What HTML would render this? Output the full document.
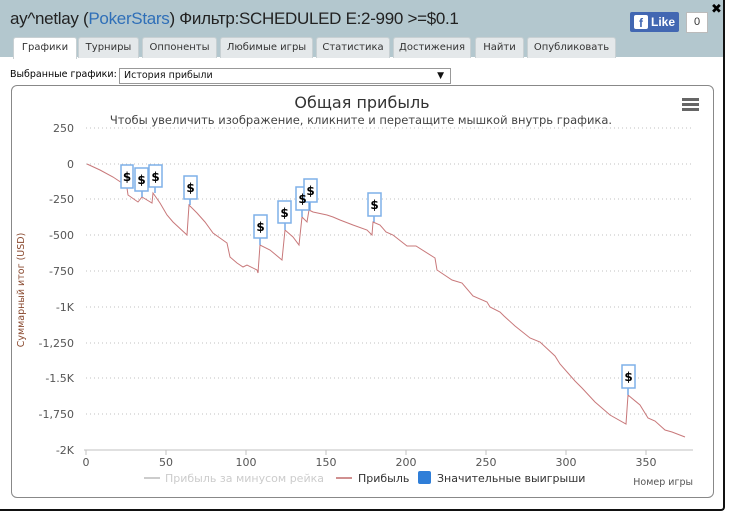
<!DOCTYPE html>
<html><head><meta charset="utf-8"><style>
body{margin:0;width:731px;height:513px;background:#fff;overflow:hidden;font-family:"Liberation Sans","DejaVu Sans",sans-serif;position:relative}
.win{position:absolute;left:0;top:0;width:723px;height:509px;border-right:2px solid #111;border-bottom:2px solid #111;border-bottom-right-radius:4px;background:#fff}
.hdr{position:absolute;left:0;top:0;width:723px;height:57px;background:#b3c7ce}
.title{position:absolute;left:10px;top:9px;font-size:17px;color:#222;letter-spacing:-0.3px}
.title span{color:#2f6fb8}
.tab{position:absolute;top:37px;height:20px;background:#e4e8ea;border:1px solid #c8d0d3;border-bottom:none;border-radius:3px 3px 0 0;font-family:"DejaVu Sans",sans-serif;font-size:10px;color:#333;text-align:center;line-height:20px}
.tab.act{background:#fff;height:21px}
.fb{position:absolute;left:630px;top:12px;width:49px;height:20px;background:#4267b2;border-radius:2px;color:#fff;font-weight:bold;font-size:12px;line-height:20px}
.cnt{position:absolute;left:686px;top:12px;width:20px;height:19px;border:1px solid #bbb;background:#fff;font-size:11px;text-align:center;line-height:19px;color:#333}
.sel{position:absolute;left:119px;top:68px;width:326px;height:14px;border:1px solid #999;font-family:"DejaVu Sans",sans-serif;font-size:9.5px;line-height:14px;padding-left:4px;color:#111}
.chart{position:absolute;left:11px;top:85px;width:701px;height:411px;border:1px solid #888;border-radius:6px}
</style></head><body>
<div class="win">
<div class="hdr"></div>
<div class="title">ay^netlay (<span>PokerStars</span>) Фильтр:SCHEDULED E:2-990 &gt;=$0.1</div>
<div style="position:absolute;left:711px;top:1px;font-size:13px;font-weight:bold">✖</div>
<div class="fb"><span style="display:inline-block;width:14px;height:14px;background:#fff;color:#4267b2;margin:3px 3px 0 4px;line-height:16px;text-align:center;vertical-align:top;border-radius:2px">f</span>Like</div>
<div class="cnt">0</div>
<div class="tab act" style="left:13px;width:62px">Графики</div>
<div class="tab" style="left:78px;width:59px">Турниры</div>
<div class="tab" style="left:142px;width:73px">Оппоненты</div>
<div class="tab" style="left:220px;width:91px">Любимые игры</div>
<div class="tab" style="left:316px;width:72px">Статистика</div>
<div class="tab" style="left:393px;width:76px">Достижения</div>
<div class="tab" style="left:475px;width:47px">Найти</div>
<div class="tab" style="left:527px;width:87px">Опубликовать</div>
<div style="position:absolute;left:10px;top:69px;font-family:'DejaVu Sans',sans-serif;font-size:9.5px">Выбранные графики:</div>
<div class="sel">История прибыли<span style="position:absolute;right:6px;top:0;font-size:9px">▼</span></div>
<div class="chart"></div>
<svg width="731" height="513" style="position:absolute;left:0;top:0" font-family="DejaVu Sans, sans-serif">
<text x="362" y="108" font-size="16" text-anchor="middle" fill="#333">Общая прибыль</text>
<text x="361" y="124" font-size="11.5" text-anchor="middle" fill="#444">Чтобы увеличить изображение, кликните и перетащите мышкой внутрь графика.</text>
<g fill="#666"><rect x="682" y="98" width="17" height="3"/><rect x="682" y="103" width="17" height="3"/><rect x="682" y="108" width="17" height="3"/></g>
<g stroke="#c0c0c0" stroke-dasharray="1,3" stroke-width="1">
<line x1="86" y1="128" x2="693" y2="128"/><line x1="86" y1="164" x2="693" y2="164"/><line x1="86" y1="199" x2="693" y2="199"/><line x1="86" y1="235" x2="693" y2="235"/><line x1="86" y1="271" x2="693" y2="271"/><line x1="86" y1="307" x2="693" y2="307"/><line x1="86" y1="343" x2="693" y2="343"/><line x1="86" y1="378" x2="693" y2="378"/><line x1="86" y1="414" x2="693" y2="414"/></g>
<line x1="84" y1="450" x2="693" y2="450" stroke="#c0c0c0"/>
<g stroke="#c0c0c0"><line x1="86" y1="450" x2="86" y2="455"/><line x1="166" y1="450" x2="166" y2="455"/><line x1="246" y1="450" x2="246" y2="455"/><line x1="326" y1="450" x2="326" y2="455"/><line x1="406" y1="450" x2="406" y2="455"/><line x1="486" y1="450" x2="486" y2="455"/><line x1="566" y1="450" x2="566" y2="455"/><line x1="646" y1="450" x2="646" y2="455"/></g>
<g font-size="11" fill="#555" text-anchor="end"><text x="74" y="132">250</text><text x="74" y="168">0</text><text x="74" y="203">-250</text><text x="74" y="239">-500</text><text x="74" y="275">-750</text><text x="74" y="311">-1K</text><text x="74" y="347">-1,250</text><text x="74" y="382">-1.5K</text><text x="74" y="418">-1,750</text><text x="74" y="454">-2K</text></g>
<g font-size="11" fill="#555" text-anchor="middle"><text x="86" y="466">0</text><text x="166" y="466">50</text><text x="246" y="466">100</text><text x="326" y="466">150</text><text x="406" y="466">200</text><text x="486" y="466">250</text><text x="566" y="466">300</text><text x="646" y="466">350</text></g>
<text transform="translate(24,290) rotate(-90)" font-size="9.5" fill="#8a4a30" text-anchor="middle">Суммарный итог (USD)</text>
<text x="693" y="485" font-size="9.5" fill="#555" text-anchor="end">Номер игры</text>
<line x1="144" y1="478" x2="160" y2="478" stroke="#ccc" stroke-width="2"/>
<text x="165" y="482" font-size="11" fill="#ccc">Прибыль за минусом рейка</text>
<line x1="336" y1="478" x2="352" y2="478" stroke="#d09090" stroke-width="2"/>
<text x="358" y="482" font-size="11" fill="#333">Прибыль</text>
<rect x="418" y="471" width="13" height="13" rx="2" fill="#2f7ed8"/>
<text x="437" y="482" font-size="11" fill="#333">Значительные выигрыши</text>
<polyline fill="none" stroke="#c8787a" stroke-width="1" points="87,164 100,170 113,177 122,183 127,188 128,195 138,202 142,197 147,200 152,203 153,193 160,203 167,215 173,222 187,235 189,205 197,213 205,222 213,233 227,243 230,257 237,263 243,267 247,265 257,270 258,273 260,245 270,250 282,260 285,230 293,237 299,245 302,217 307,222 309,210 313,212 327,215 333,217 340,220 353,225 367,230 372,235 373,222 380,225 386,232 393,235 407,246 416,246 435,258 437,270 452,280 462,283 473,296 487,302 490,307 500,312 504,316 515,326 530,338 540,342 555,356 560,364 575,381 582,388 595,402 610,415 626,424 628,395 640,405 648,418 655,421 665,430 672,432 685,437"/>
<g stroke="#2f7ed8" stroke-width="1"><line x1="142" y1="191" x2="142" y2="197"/><line x1="155" y1="187" x2="155" y2="193"/><line x1="190" y1="199" x2="190" y2="205"/><line x1="260" y1="238" x2="260" y2="245"/><line x1="285" y1="223" x2="285" y2="230"/><line x1="302" y1="210" x2="302" y2="217"/><line x1="310" y1="202" x2="310" y2="210"/><line x1="374" y1="216" x2="374" y2="222"/><line x1="628" y1="388" x2="628" y2="395"/></g>
<g fill="#fff" stroke="#7fb0e8" stroke-width="1.5">
<rect x="121" y="165" width="12" height="23"/><rect x="135" y="168" width="13" height="23"/><rect x="149" y="165" width="13" height="22"/><rect x="184" y="176" width="13" height="23"/><rect x="254" y="215" width="13" height="23"/><rect x="278" y="201" width="13" height="22"/><rect x="296" y="187" width="13" height="23"/><rect x="304" y="179" width="13" height="23"/><rect x="368" y="193" width="13" height="23"/><rect x="622" y="365" width="13" height="23"/></g>
<g font-size="12" font-weight="bold" fill="#000" text-anchor="middle">
<text x="127" y="181">$</text><text x="141.5" y="184">$</text><text x="155.5" y="181">$</text><text x="190.5" y="192">$</text><text x="260.5" y="231">$</text><text x="284.5" y="217">$</text><text x="302.5" y="203">$</text><text x="310.5" y="195">$</text><text x="374.5" y="209">$</text><text x="628.5" y="381">$</text></g>
</svg>
</div>
</body></html>
